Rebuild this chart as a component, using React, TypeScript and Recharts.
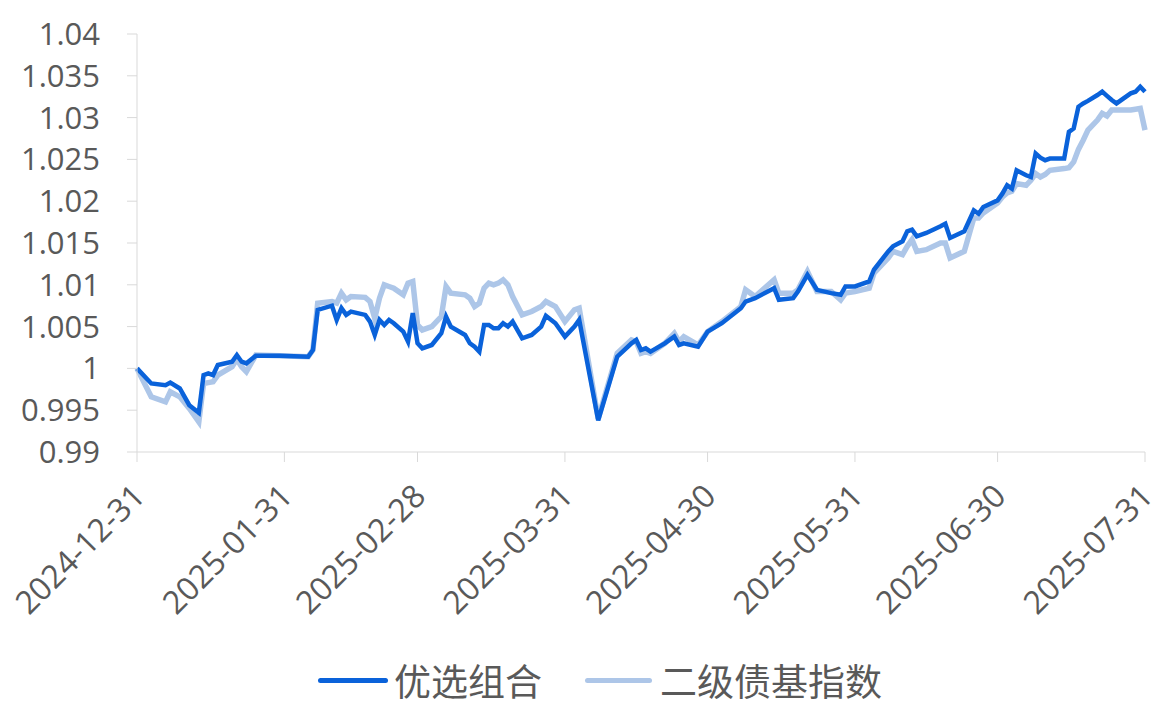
import React from 'react';
import { LineChart, Line, XAxis, YAxis } from 'recharts';

// day offsets from 2024-12-31, month-end ticks
const tickDays = [0, 31, 59, 90, 120, 151, 181, 212];
const tickDates = ['2024-12-31', '2025-01-31', '2025-02-28', '2025-03-31', '2025-04-30', '2025-05-31', '2025-06-30', '2025-07-31'];
const yTicks = [0.99, 0.995, 1, 1.005, 1.01, 1.015, 1.02, 1.025, 1.03, 1.035, 1.04];

const days = [
  0, 3, 6, 7, 9, 11, 13, 14, 15, 16, 17, 20, 21, 22, 23, 25, 30, 36, 37, 38,
  41, 42, 43, 44, 45, 48, 49, 50, 51, 52, 53, 54, 56, 57, 58, 59, 60, 62, 64, 65,
  66, 69, 70, 71, 72, 73, 74, 75, 76, 77, 78, 79, 81, 83, 85, 86, 88, 90, 92, 93,
  97, 101, 104, 105, 106, 107, 108, 111, 113, 114, 115, 118, 120, 123, 127, 128, 130, 134, 135, 138,
  139, 141, 143, 146, 148, 149, 151, 154, 155, 158, 159, 161, 162, 163, 164, 166, 169, 170, 171, 174,
  176, 177, 178, 181, 182, 183, 184, 185, 187, 188, 189, 190, 191, 192, 195, 196, 197, 198, 199, 200,
  202, 203, 204, 205, 206, 209, 210, 211, 212,
];

// 优选组合
const portfolio = [
  1.0, 0.9982, 0.998, 0.9983, 0.9976, 0.9956, 0.9947, 0.9992, 0.9994, 0.9992, 1.0004, 1.0008, 1.0016, 1.0008, 1.0006, 1.0015, 1.0015, 1.0014, 1.0022, 1.007,
  1.0075, 1.0058, 1.0072, 1.0064, 1.0068, 1.0064, 1.0056, 1.004, 1.0058, 1.0052, 1.0058, 1.0054, 1.0044, 1.0032, 1.0066, 1.003, 1.0024, 1.0028, 1.0042, 1.0062,
  1.005, 1.004, 1.003, 1.0026, 1.002, 1.0052, 1.0052, 1.0048, 1.0048, 1.0054, 1.005, 1.0056, 1.0036, 1.004, 1.005, 1.0063, 1.0054, 1.0038, 1.005, 1.0058,
  0.9938, 1.0014, 1.003, 1.0034, 1.0022, 1.0024, 1.002, 1.003, 1.0038, 1.0028, 1.003, 1.0026, 1.0044, 1.0054, 1.0072, 1.008, 1.0084, 1.0096, 1.0082, 1.0084,
  1.0092, 1.0112, 1.0094, 1.009, 1.0088, 1.0098, 1.0098, 1.0104, 1.0118, 1.014, 1.0146, 1.0152, 1.0164, 1.0166, 1.0158, 1.0162, 1.017, 1.0173, 1.0156, 1.0164,
  1.0189, 1.0185, 1.0193, 1.0201, 1.0209, 1.0219, 1.0215, 1.0237, 1.0231, 1.0229, 1.0257, 1.0252, 1.0249, 1.0251, 1.0251, 1.0283, 1.0287, 1.0313, 1.0317, 1.032,
  1.0327, 1.0331, 1.0326, 1.0321, 1.0317, 1.0329, 1.0331, 1.0337, 1.0331,
];

// 二级债基指数
const benchmark = [
  1.0, 0.9966, 0.996, 0.9972, 0.9966, 0.9952, 0.9936, 0.9982, 0.9983, 0.9984, 0.9992, 1.0002, 1.0011, 1.0002, 0.9996, 1.0016, 1.0015, 1.0014, 1.0022, 1.0078,
  1.008, 1.0078, 1.009, 1.0082, 1.0086, 1.0085, 1.008, 1.006, 1.0084, 1.01, 1.0098, 1.0096, 1.0088, 1.0102, 1.0104, 1.0052, 1.0046, 1.005, 1.0062, 1.0098,
  1.009, 1.0088, 1.0084, 1.0074, 1.0078, 1.0096, 1.0102, 1.01, 1.0102, 1.0106, 1.01, 1.0086, 1.0064, 1.0068, 1.0074, 1.008, 1.0074, 1.0056, 1.007, 1.0072,
  0.994, 1.0018, 1.0034, 1.0032, 1.0018, 1.002, 1.0018, 1.003, 1.0042, 1.0032, 1.0038, 1.0028, 1.0044, 1.0056, 1.0074, 1.0094, 1.0086, 1.0106, 1.009, 1.009,
  1.0094, 1.0116, 1.0092, 1.0092, 1.0082, 1.009, 1.0092, 1.0096, 1.0114, 1.0132, 1.014, 1.0136, 1.0146, 1.0154, 1.014, 1.0142, 1.015, 1.015, 1.0132, 1.014,
  1.018, 1.018, 1.0186, 1.0198, 1.0205, 1.021, 1.0212, 1.0221, 1.0219, 1.0225, 1.0233, 1.0229, 1.0232, 1.0237, 1.0239, 1.024, 1.0247, 1.0262, 1.0273, 1.0285,
  1.0297, 1.0305, 1.0302, 1.0309, 1.0309, 1.0309, 1.031, 1.0311, 1.0285,
];

const rows = days.map((d, i) => ({ d, a: portfolio[i], b: benchmark[i] }));

const FONT = '"Open Sans", "Noto Sans CJK SC", sans-serif';
const TEXT = '#595959';
const DARK = '#0a62da';
const LIGHT = '#adc6e8';

const XTick = ({ x, y, payload }: any) => {
  const i = tickDays.indexOf(payload.value);
  return (
    <g transform={`translate(${x + 10},${y + 34})`}>
      <text textAnchor="end" transform="rotate(-45)" fill={TEXT} fontSize={32} fontFamily={FONT}>
        {tickDates[i]}
      </text>
    </g>
  );
};

const YTick = ({ x, y, payload }: any) => (
  <text x={x} y={y} dy={11} textAnchor="end" fill={TEXT} fontSize={31} fontFamily={FONT}>
    {String(payload.value)}
  </text>
);

export default function App() {
  return (
    <div style={{ position: 'absolute', left: 0, top: 0, width: 1167, height: 711, background: '#fff' }}>
      <LineChart width={1167} height={711} data={rows} margin={{ top: 34, right: 22, left: 0, bottom: 0 }}>
        <XAxis
          dataKey="d"
          type="number"
          domain={[0, 212]}
          ticks={tickDays}
          interval={0}
          height={259}
          tickSize={10}
          stroke="#d9d9d9"
          tick={<XTick />}
        />
        <YAxis
          type="number"
          domain={[0.99, 1.04]}
          ticks={yTicks}
          interval={0}
          width={137}
          tickSize={10}
          tickMargin={27}
          stroke="#d9d9d9"
          tick={<YTick />}
        />
        <Line dataKey="b" type="linear" stroke={LIGHT} strokeWidth={5.5} dot={false} isAnimationActive={false} />
        <Line dataKey="a" type="linear" stroke={DARK} strokeWidth={4.5} dot={false} isAnimationActive={false} />
      </LineChart>
      <div
        style={{
          position: 'absolute',
          top: 655,
          left: 318,
          display: 'flex',
          alignItems: 'center',
          fontFamily: '"Noto Sans CJK SC", sans-serif',
          fontSize: 37,
          color: TEXT,
          lineHeight: '50px',
          whiteSpace: 'nowrap',
        }}
      >
        <span style={{ display: 'inline-block', width: 70, height: 5, background: DARK, borderRadius: 3, marginRight: 6 }} />
        <span>优选组合</span>
        <span style={{ display: 'inline-block', width: 67, height: 5, background: LIGHT, borderRadius: 3, marginLeft: 43, marginRight: 8 }} />
        <span>二级债基指数</span>
      </div>
    </div>
  );
}
